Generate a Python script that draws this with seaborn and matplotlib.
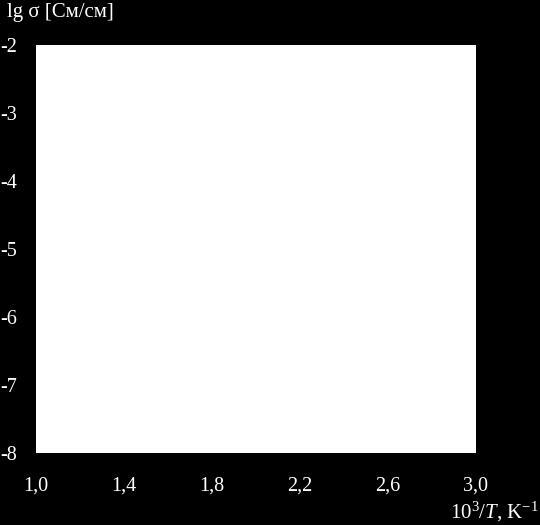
import numpy as np
import pandas as pd
import matplotlib
matplotlib.use("Agg")
import matplotlib.pyplot as plt
import seaborn as sns

# axis settings (plot area itself is empty)
x_ticks = [1.0, 1.4, 1.8, 2.2, 2.6, 3.0]
x_labels = ["1,0", "1,4", "1,8", "2,2", "2,6", "3,0"]
y_ticks = [-2, -3, -4, -5, -6, -7, -8]
y_labels = ["-2", "-3", "-4", "-5", "-6", "-7", "-8"]
x_name = r"10$^3$/$T$, K$^{-1}$"
y_name = "lg σ [См/см]"

# no data points visible in the reference
inv_t = []
lg_sigma = []

sns.set_theme(style="white", rc={"axes.facecolor": "white",
                                 "figure.facecolor": "black"})
plt.rcParams["font.family"] = ["Liberation Serif", "DejaVu Serif"]
plt.rcParams["mathtext.fontset"] = "custom"
plt.rcParams["mathtext.rm"] = "Liberation Serif"
plt.rcParams["mathtext.it"] = "Liberation Serif:italic"

fig = plt.figure(figsize=(5.4, 5.25), dpi=100)
ax = fig.add_axes([36 / 540, 1 - 453 / 525, 440 / 540, 408 / 525])

df = pd.DataFrame({"x": inv_t, "y": lg_sigma}, dtype=float)
sns.lineplot(data=df, x="x", y="y", ax=ax, color="black")

ax.set_xlim(x_ticks[0], x_ticks[-1])
ax.set_ylim(min(y_ticks), max(y_ticks))
ax.set_xticks(x_ticks)
ax.set_xticklabels(x_labels, color="white", fontsize=14.5)
ax.set_yticks(y_ticks)
ax.set_yticklabels(y_labels, color="white", fontsize=14.5, ha="left",
                   va="center_baseline")
ax.tick_params(axis="y", pad=25.5, length=0)
ax.tick_params(axis="x", pad=17, length=0)
ax.set_xlabel("")
ax.set_ylabel("")
for s in ax.spines.values():
    s.set_visible(False)

fig.text(7 / 540, 1 - 12 / 525, y_name, color="white", fontsize=15,
         ha="left", va="center")
fig.text(539 / 540, 1 - 512 / 525, x_name, color="white", fontsize=15,
         ha="right", va="center")

fig.savefig("out.png", dpi=100, facecolor="black")
